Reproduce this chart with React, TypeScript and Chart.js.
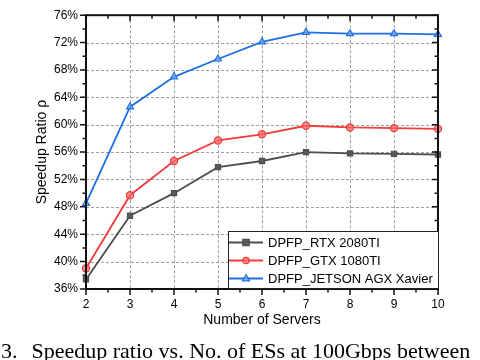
import React, { useEffect, useRef } from "react";
import { Chart, registerables } from "chart.js";

Chart.register(...registerables);

const servers = [2, 3, 4, 5, 6, 7, 8, 9, 10];
const rtx2080 = [37.4, 46.7, 50.0, 53.8, 54.7, 56.0, 55.8, 55.75, 55.65];
const gtx1080 = [39.0, 49.7, 54.7, 57.7, 58.6, 59.85, 59.6, 59.5, 59.4];
const jetson = [48.5, 62.6, 67.0, 69.6, 72.1, 73.5, 73.3, 73.3, 73.2];
const yTicks = [36, 40, 44, 48, 52, 56, 60, 64, 68, 72, 76];
const seriesNames = ["DPFP_RTX 2080TI", "DPFP_GTX 1080TI", "DPFP_JETSON AGX Xavier"];
const seriesColors = ["#4e4e4e", "#f23b3b", "#1f6fe2"];
const seriesFills = ["#5a5a5a", "rgba(250,110,110,0.75)", "rgba(130,175,240,0.6)"];
const markerStyles = ["rect", "circle", "triangle"];
const xTitle = "Number of Servers";
const yTitle = "Speedup Ratio ρ";

const SANS = "'Liberation Sans', Arial, sans-serif";

function drawMarker(ctx: CanvasRenderingContext2D, style: string, x: number, y: number, r: number, fill: string, stroke: string) {
  ctx.save();
  ctx.fillStyle = fill;
  ctx.strokeStyle = stroke;
  ctx.lineWidth = 1.2;
  ctx.setLineDash([]);
  ctx.beginPath();
  if (style === "rect") {
    ctx.rect(x - r, y - r, 2 * r, 2 * r);
  } else if (style === "circle") {
    ctx.arc(x, y, r, 0, Math.PI * 2);
  } else {
    ctx.moveTo(x, y - r * 1.2);
    ctx.lineTo(x + r * 1.1, y + r * 0.75);
    ctx.lineTo(x - r * 1.1, y + r * 0.75);
    ctx.closePath();
  }
  ctx.fill();
  ctx.stroke();
  ctx.restore();
}

const framePlugin = {
  id: "framePlugin",
  beforeDatasetsDraw(chart: any) {
    const { ctx, chartArea: a, scales } = chart;
    const x = scales.x, y = scales.y;
    ctx.save();
    ctx.strokeStyle = "#a0a0a0";
    ctx.lineWidth = 1;
    ctx.setLineDash([3, 2]);
    for (const v of servers) {
      if (v === servers[0] || v === servers[servers.length - 1]) continue;
      const px = Math.round(x.getPixelForValue(v)) + 0.5;
      ctx.beginPath();
      ctx.moveTo(px, a.top);
      ctx.lineTo(px, a.bottom);
      ctx.stroke();
    }
    for (const v of yTicks) {
      if (v === yTicks[0] || v === yTicks[yTicks.length - 1]) continue;
      const py = Math.round(y.getPixelForValue(v)) + 0.5;
      ctx.beginPath();
      ctx.moveTo(a.left, py);
      ctx.lineTo(a.right, py);
      ctx.stroke();
    }
    ctx.restore();
  },
  afterDatasetsDraw(chart: any) {
    const { ctx, chartArea: a, scales } = chart;
    const x = scales.x, y = scales.y;
    ctx.save();
    ctx.setLineDash([]);
    ctx.strokeStyle = "#111";
    ctx.lineWidth = 2;
    ctx.strokeRect(a.left, a.top, a.right - a.left, a.bottom - a.top);
    ctx.lineWidth = 1.5;
    const major = 6, minor = 3.5;
    ctx.beginPath();
    servers.forEach((v, i) => {
      const px = x.getPixelForValue(v);
      ctx.moveTo(px, a.bottom); ctx.lineTo(px, a.bottom + major);
      ctx.moveTo(px, a.top); ctx.lineTo(px, a.top + major);
      if (i < servers.length - 1) {
        const mx = x.getPixelForValue(v + 0.5);
        ctx.moveTo(mx, a.bottom); ctx.lineTo(mx, a.bottom + minor);
        ctx.moveTo(mx, a.top); ctx.lineTo(mx, a.top + minor);
      }
    });
    yTicks.forEach((v, i) => {
      const py = y.getPixelForValue(v);
      ctx.moveTo(a.left, py); ctx.lineTo(a.left - major, py);
      ctx.moveTo(a.right, py); ctx.lineTo(a.right - major, py);
      if (i < yTicks.length - 1) {
        const my = y.getPixelForValue(v + 2);
        ctx.moveTo(a.left, my); ctx.lineTo(a.left - minor, my);
        ctx.moveTo(a.right, my); ctx.lineTo(a.right - minor, my);
      }
    });
    ctx.stroke();

    // legend
    const lx = 228, ly = 231, lw = a.right - 228, lh = 57;
    ctx.fillStyle = "#fff";
    ctx.fillRect(lx, ly, lw, lh);
    ctx.strokeStyle = "#222";
    ctx.lineWidth = 1;
    ctx.strokeRect(lx + 0.5, ly + 0.5, lw, lh);
    const rows = [242.5, 260.5, 278.5];
    ctx.font = `13px ${SANS}`;
    ctx.textBaseline = "middle";
    ctx.textAlign = "left";
    seriesNames.forEach((name, i) => {
      const ry = rows[i];
      ctx.strokeStyle = seriesColors[i];
      ctx.lineWidth = 2;
      ctx.beginPath();
      ctx.moveTo(lx + 1, ry);
      ctx.lineTo(lx + 35, ry);
      ctx.stroke();
      drawMarker(ctx, markerStyles[i], lx + 18, ry, 3.2, seriesFills[i], seriesColors[i]);
      ctx.fillStyle = "#000";
      ctx.fillText(name, 268, ry + 1);
    });
    ctx.restore();
  },
  afterDraw(chart: any) {
    const { ctx, chartArea: a } = chart;
    ctx.save();
    ctx.fillStyle = "#000";
    ctx.font = `14px ${SANS}`;
    ctx.textAlign = "center";
    ctx.textBaseline = "middle";
    ctx.fillText(xTitle, (a.left + a.right) / 2, 320);
    ctx.translate(42, (a.top + a.bottom) / 2);
    ctx.rotate(-Math.PI / 2);
    ctx.fillText(yTitle, 0, 0);
    ctx.restore();
  },
};

export default function App() {
  const ref = useRef<HTMLCanvasElement | null>(null);
  useEffect(() => {
    if (!ref.current) return;
    const mk = (vals: number[], i: number) => ({
      label: seriesNames[i],
      data: servers.map((s, j) => ({ x: s, y: vals[j] })),
      borderColor: seriesColors[i],
      backgroundColor: seriesFills[i],
      pointBorderColor: seriesColors[i],
      pointBackgroundColor: seriesFills[i],
      pointStyle: markerStyles[i],
      pointRadius: i === 2 ? 4 : 3.6,
      pointBorderWidth: 1.2,
      borderWidth: 1.8,
      tension: 0,
      clip: false as any,
    });
    const chart = new Chart(ref.current, {
      type: "line",
      data: {
        datasets: [mk(rtx2080, 0), mk(gtx1080, 1), mk(jetson, 2)],
      },
      options: {
        responsive: false,
        animation: false,
        devicePixelRatio: 1,
        layout: { padding: { left: 0, top: 5, right: 42, bottom: 0 } },
        plugins: { legend: { display: false }, tooltip: { enabled: false } },
        scales: {
          x: {
            type: "linear",
            min: 2,
            max: 10,
            afterBuildTicks: (s: any) => {
              s.ticks = servers.map((v) => ({ value: v }));
            },
            afterFit: (s: any) => {
              s.height = 71;
            },
            grid: { display: false, drawTicks: false, tickLength: 0 },
            border: { display: false },
            ticks: {
              color: "#000",
              padding: 8,
              maxRotation: 0,
              font: { family: SANS, size: 12 },
            },
          },
          y: {
            type: "linear",
            min: 36,
            max: 76,
            afterBuildTicks: (s: any) => {
              s.ticks = yTicks.map((v) => ({ value: v }));
            },
            afterFit: (s: any) => {
              s.width = 86;
            },
            grid: { display: false, drawTicks: false, tickLength: 0 },
            border: { display: false },
            ticks: {
              color: "#000",
              padding: 8,
              font: { family: SANS, size: 12 },
              callback: (v: any) => `${v}%`,
            },
          },
        },
      },
      plugins: [framePlugin],
    });
    return () => chart.destroy();
  }, []);

  return (
    <div
      style={{
        position: "fixed",
        left: 0,
        top: 0,
        width: 480,
        height: 360,
        overflow: "hidden",
        background: "#fff",
      }}
    >
      <canvas ref={ref} width={480} height={360} style={{ width: 480, height: 360, display: "block" }} />
      <div
        style={{
          position: "absolute",
          left: 1,
          top: 340,
          whiteSpace: "nowrap",
          fontFamily: "'Liberation Serif', 'Times New Roman', serif",
          fontSize: 22,
          lineHeight: "22px",
          color: "#000",
        }}
      >
        <span>3.</span>
        <span style={{ marginLeft: 14 }}>Speedup ratio vs. No. of ESs at 100Gbps between</span>
      </div>
    </div>
  );
}
